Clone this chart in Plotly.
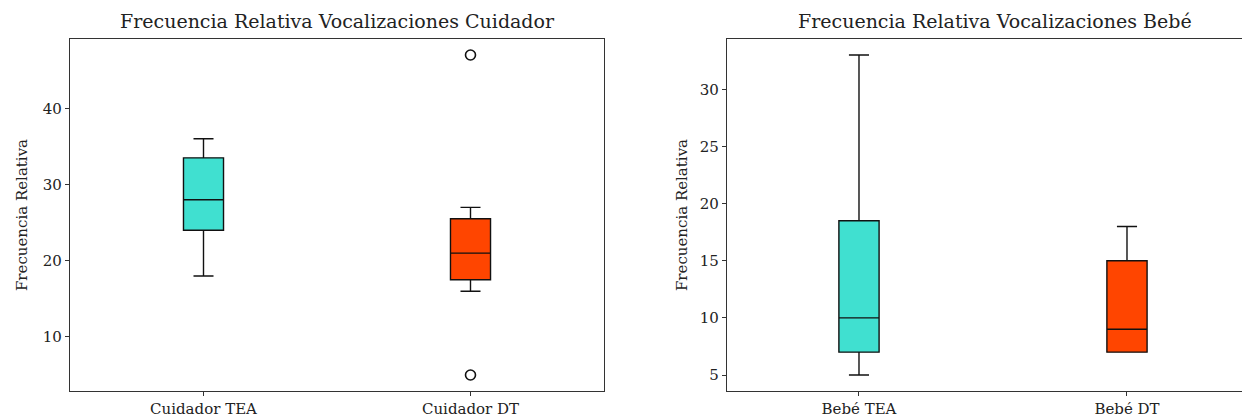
import plotly.graph_objects as go

# ---- data ----
cuid_labels = ["Cuidador TEA", "Cuidador DT"]
cuid_q1 = [24.0, 17.5]
cuid_median = [28.0, 21.0]
cuid_q3 = [33.5, 25.5]
cuid_low = [18.0, 16.0]
cuid_high = [36.0, 27.0]
cuid_outliers_x = [2, 2]
cuid_outliers_y = [47.0, 5.0]

bebe_labels = ["Bebé TEA", "Bebé DT"]
bebe_q1 = [7.0, 7.0]
bebe_median = [10.0, 9.0]
bebe_q3 = [18.5, 15.0]
bebe_low = [5.0, 7.0]
bebe_high = [33.0, 18.0]

positions = [1, 2]
colors = ["#40E0D0", "#FF4500"]

FONT = "DejaVu Serif"
# page body has an 8px margin, so the figure is drawn 8px smaller
W, H = 1242, 410

fig = go.Figure()

def add_boxes(xa, ya, q1, med, q3, lo, hi):
    for i in range(2):
        fig.add_trace(go.Box(
            x=[positions[i]], q1=[q1[i]], median=[med[i]], q3=[q3[i]],
            lowerfence=[lo[i]], upperfence=[hi[i]],
            width=0.15, whiskerwidth=0.5,
            fillcolor=colors[i], line=dict(color="#111111", width=1.4),
            boxpoints=False, showlegend=False, hoverinfo="skip",
            xaxis=xa, yaxis=ya,
        ))

add_boxes("x", "y", cuid_q1, cuid_median, cuid_q3, cuid_low, cuid_high)
add_boxes("x2", "y2", bebe_q1, bebe_median, bebe_q3, bebe_low, bebe_high)

fig.add_trace(go.Scatter(
    x=cuid_outliers_x, y=cuid_outliers_y, mode="markers",
    marker=dict(symbol="circle-open", size=10, color="#111111", line=dict(width=1.6)),
    showlegend=False, hoverinfo="skip", xaxis="x", yaxis="y",
))

axis_common = dict(
    showgrid=False, zeroline=False, showline=True, linecolor="#333333", linewidth=1.3,
    ticks="outside", ticklen=4, tickcolor="#333333",
    tickfont=dict(family=FONT, size=15, color="#222222"),
)

left_dom = [62 / W, 596 / W]
right_dom = [719 / W, 1.0]
label_font = dict(family=FONT, size=15, color="#222222")

fig.update_layout(
    width=W, height=H,
    margin=dict(l=0, r=0, t=31, b=27),
    plot_bgcolor="white", paper_bgcolor="white",
    font=dict(family=FONT, color="#222222"),
    xaxis=dict(domain=left_dom, range=[0.5, 2.5], tickvals=positions, ticktext=cuid_labels,
               mirror=True, anchor="y", **axis_common),
    yaxis=dict(domain=[0, 1], range=[2.9, 49.1], tickvals=[10, 20, 30, 40], mirror=True,
               anchor="x",
               title=dict(text="Frecuencia Relativa", font=label_font, standoff=11),
               **axis_common),
    xaxis2=dict(domain=right_dom, range=[0.5075, 2.459], tickvals=positions, ticktext=bebe_labels,
                mirror=True, anchor="y2", **axis_common),
    yaxis2=dict(domain=[0, 1], range=[3.6, 34.4], tickvals=[5, 10, 15, 20, 25, 30], mirror=False,
                anchor="x2",
                title=dict(text="Frecuencia Relativa", font=label_font, standoff=8),
                **axis_common),
    annotations=[
        dict(text="Frecuencia Relativa Vocalizaciones Cuidador", xref="paper", yref="paper",
             x=(left_dom[0] + left_dom[1]) / 2, y=1, yshift=5, xanchor="center", yanchor="bottom",
             showarrow=False, font=dict(family=FONT, size=19, color="#222222")),
        dict(text="Frecuencia Relativa Vocalizaciones Bebé", xref="paper", yref="paper",
             x=(719 + 1255) / 2 / W, y=1, yshift=5, xanchor="center", yanchor="bottom",
             showarrow=False, font=dict(family=FONT, size=19, color="#222222")),
    ],
)

fig.write_html("out.html")
